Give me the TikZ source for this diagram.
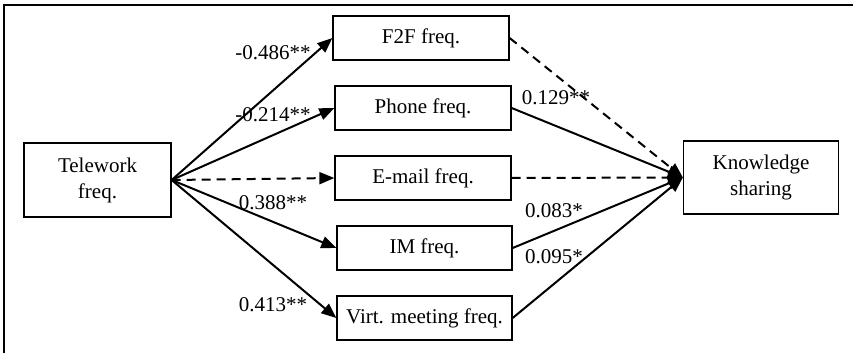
\documentclass[tikz,border=0pt]{standalone}
\usepackage{fontspec}
\setmainfont{Liberation Serif}
\usetikzlibrary{arrows.meta}
\begin{document}
\begin{tikzpicture}[x=1pt,y=-1pt,
  box/.style={draw,line width=1.3pt,inner sep=0pt,align=center,
    font=\fontsize{21}{26}\selectfont},
  lbl/.style={inner sep=0pt,font=\fontsize{21}{25}\selectfont},
  path/.style={line width=2pt,-{Triangle[length=15pt,width=12pt]}},
  nspath/.style={path,dash pattern=on 9pt off 6pt}]
\useasboundingbox (0,0) rectangle (853,353);
\draw[line width=1.6pt] (4,353) -- (4,5) -- (853,5);
\node[box,minimum width=147pt,minimum height=74pt] (t) at (97.5,180) {Telework\\freq.};
\node[box,minimum width=176pt,minimum height=44pt] (f) at (421,38) {F2F freq.};
\node[box,minimum width=176pt,minimum height=44pt] (p) at (423,108) {Phone freq.};
\node[box,minimum width=176pt,minimum height=44pt] (e) at (423,178) {E-mail freq.};
\node[box,minimum width=175pt,minimum height=44pt] (i) at (424.5,248) {IM freq.};
\node[box,minimum width=175pt,minimum height=44pt] (v) at (424.5,318) {Virt. meeting freq.};
\node[box,minimum width=155pt,minimum height=73pt] (k) at (761,177.5) {Knowledge\\sharing};
\draw[path] (t.east) -- (f.west);
\draw[path] (t.east) -- (p.west);
\draw[nspath] (t.east) -- (e.west);
\draw[path] (t.east) -- (i.west);
\draw[path] (t.east) -- (v.west);
\draw[nspath] (f.east) -- (k.west);
\draw[path] (p.east) -- (k.west);
\draw[nspath] (e.east) -- (k.west);
\draw[path] (i.east) -- (k.west);
\draw[path] (v.east) -- (k.west);
\node[lbl] (l1) at (273,53) {-0.486**};
\node[lbl] (l2) at (273,115) {-0.214**};
\node[lbl] (l3) at (273,203) {0.388**};
\node[lbl] (l4) at (273,305) {0.413**};
\node[lbl] (l5) at (556,98) {0.129**};
\node[lbl] (l6) at (554,211) {0.083*};
\node[lbl] (l7) at (554,257) {0.095*};
\end{tikzpicture}
\end{document}
